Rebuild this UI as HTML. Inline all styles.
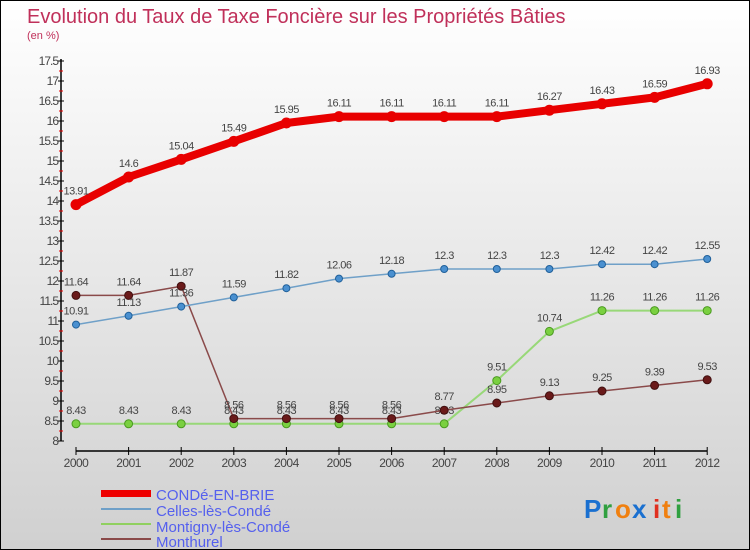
<!DOCTYPE html>
<html><head><meta charset="utf-8"><style>
body{margin:0}
#c{width:748px;height:548px;border:1px solid #000;background:linear-gradient(#fff,#d0d0d0);position:relative;font-family:"Liberation Sans",sans-serif;overflow:hidden}
</style></head><body>
<div id="c">
<svg id="s" width="748" height="548" xmlns="http://www.w3.org/2000/svg">
<text x="26" y="22" font-size="20" fill="#c0305a">Evolution du Taux de Taxe Foncière sur les Propriétés Bâties</text>
<text x="26" y="38" font-size="11" fill="#c0305a">(en %)</text>
<g id="axes"></g><g id="series"></g>
<g>
<rect x="100" y="489" width="50" height="7" fill="#e00"/>
<text x="155" y="499" font-size="15" fill="#5560ee">CONDé-EN-BRIE</text>
<line x1="100" x2="150" y1="508" y2="508" stroke="#6fa0c8" stroke-width="2"/>
<text x="155" y="515" font-size="15" fill="#5560ee">Celles-lès-Condé</text>
<line x1="100" x2="150" y1="523" y2="523" stroke="#90d060" stroke-width="2"/>
<text x="155" y="531" font-size="15" fill="#5560ee">Montigny-lès-Condé</text>
<line x1="100" x2="150" y1="538" y2="538" stroke="#8a4a4a" stroke-width="2"/>
<text x="155" y="546" font-size="15" fill="#5560ee">Monthurel</text>
</g>
<g font-size="26" font-weight="bold">
<text x="583" y="517" fill="#1a70d0">P</text><text x="601" y="517" fill="#30a040">r</text><text x="614" y="517" fill="#f08010">o</text><text x="631" y="517" fill="#1a70d0">x</text><text x="652" y="517" fill="#e03020">i</text><text x="661" y="517" fill="#f08010">t</text><text x="674" y="517" fill="#30a040">i</text>
</g>
</svg></div>
<script>
const years=[2000,2001,2002,2003,2004,2005,2006,2007,2008,2009,2010,2011,2012];
const conde=[13.91,14.6,15.04,15.49,15.95,16.11,16.11,16.11,16.11,16.27,16.43,16.59,16.93];
const celles=[10.91,11.13,11.36,11.59,11.82,12.06,12.18,12.3,12.3,12.3,12.42,12.42,12.55];
const montigny=[8.43,8.43,8.43,8.43,8.43,8.43,8.43,8.43,9.51,10.74,11.26,11.26,11.26];
const monthurel=[11.64,11.64,11.87,8.56,8.56,8.56,8.56,8.77,8.95,9.13,9.25,9.39,9.53];
const yTicks=[8,8.5,9,9.5,10,10.5,11,11.5,12,12.5,13,13.5,14,14.5,15,15.5,16,16.5,17,17.5];
const NS="http://www.w3.org/2000/svg";
const X=i=>75+i*52.6, Y=v=>440-(v-8)*40;
function mk(p,t,a){const e=document.createElementNS(NS,t);for(const k in a)e.setAttribute(k,a[k]);p.appendChild(e);return e;}
const ax=document.getElementById('axes');
mk(ax,'line',{x1:60,x2:60,y1:58,y2:440,stroke:'#000','stroke-width':1.5});
mk(ax,'line',{x1:75,x2:706,y1:450,y2:450,stroke:'#000','stroke-width':1.5});
yTicks.forEach(v=>{
 mk(ax,'line',{x1:57,x2:63,y1:Y(v),y2:Y(v),stroke:'#000'});
 if(v<17.5)mk(ax,'line',{x1:58,x2:62,y1:Y(v+0.25),y2:Y(v+0.25),stroke:'#e00'});
 const t=mk(ax,'text',{x:57,y:Y(v)+4,'font-size':12,fill:'#444','text-anchor':'end','letter-spacing':'-1'});t.textContent=v;
 
 
});
years.forEach((y,i)=>{
 mk(ax,'line',{x1:X(i),x2:X(i),y1:446,y2:454,stroke:'#000'});
 const t=mk(ax,'text',{x:X(i),y:466,'font-size':12,fill:'#444','text-anchor':'middle','letter-spacing':'-0.5'});t.textContent=y;
 
 
});
const sg=document.getElementById('series');
function series(name,vals,color,w,dot,dotStroke,r){
 const g=mk(sg,'g',{});
 
 
 mk(g,'polyline',{points:vals.map((v,i)=>X(i)+','+Y(v)).join(' '),fill:'none',stroke:color,'stroke-width':w,'stroke-linejoin':'round'});
 vals.forEach((v,i)=>{
  const c=mk(g,'circle',{cx:X(i),cy:Y(v),r:r,fill:dot,stroke:dotStroke,'stroke-width':1});
  
  
  const t=mk(g,'text',{x:X(i),y:Y(v)-10,'font-size':11,fill:'#444','text-anchor':'middle','letter-spacing':'-0.5'});t.textContent=v;
  
  
 });
}
series('montigny',montigny,'#98d878',2,'#7ad040','#4a9a20',4);
series('monthurel',monthurel,'#8a4a4a',1.5,'#6a1a1a','#401010',4);
series('celles',celles,'#6fa0c8',1.5,'#4a90d0','#20609a',3.5);
series('conde',conde,'#e80000',8,'#e80000','#e80000',5);
</script>
</body></html>
